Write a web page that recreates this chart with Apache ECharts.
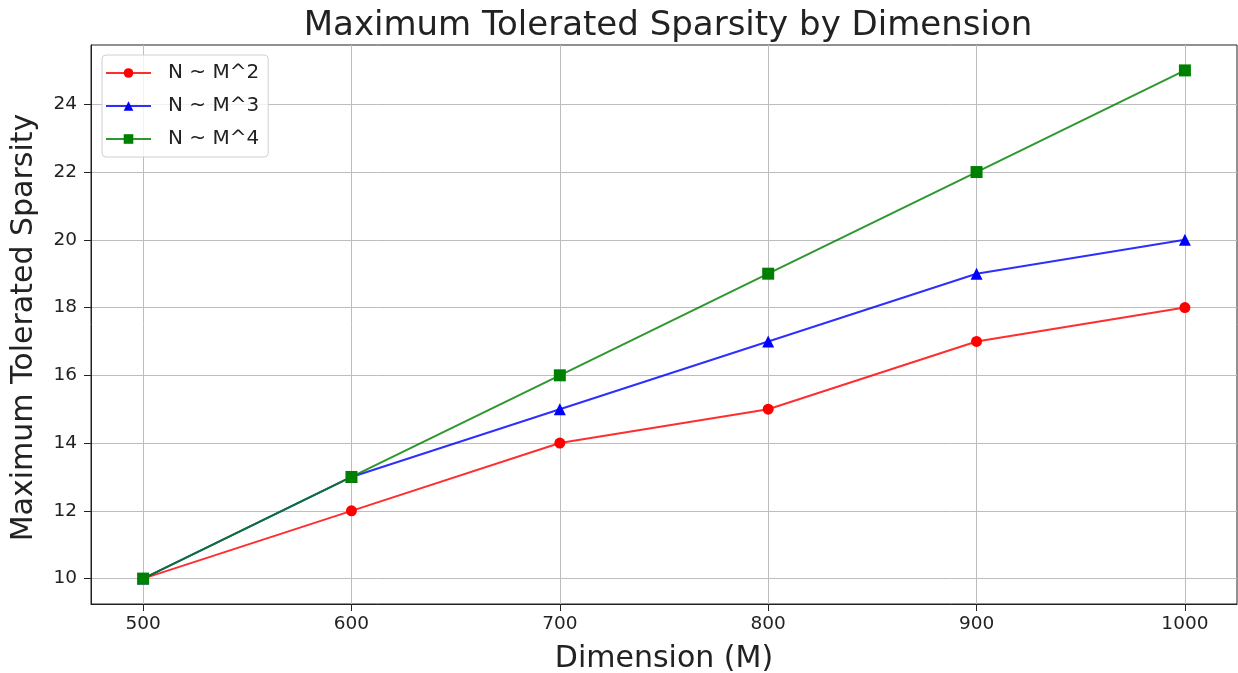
<!DOCTYPE html>
<html><head><meta charset="utf-8">
<script src="https://cdn.jsdelivr.net/npm/echarts@6/dist/echarts.min.js"></script>
<style>html,body{margin:0;padding:0;background:#fff}#c{width:1238px;height:673px}</style>
</head><body><div id="c"></div>
<script>
const dims = [500, 600, 700, 800, 900, 1000];
const m2 = [10, 12, 14, 15, 17, 18];
const m3 = [10, 13, 15, 17, 19, 20];
const m4 = [10, 13, 16, 19, 22, 25];
const xTicks = [500, 600, 700, 800, 900, 1000];
const yTicks = [10, 12, 14, 16, 18, 20, 22, 24];
const names = ['N ~ M^2', 'N ~ M^3', 'N ~ M^4'];

const font = 'DejaVu Sans';
const chart = echarts.init(document.getElementById('c'), null, {renderer: 'canvas'});
function mk(name, vals, color, symbol, size) {
  return {
    name, type: 'line', data: dims.map((d, i) => [d, vals[i]]),
    symbol, symbolSize: size, showAllSymbol: true,
    lineStyle: {color, width: 2, opacity: 0.82}, itemStyle: {color},
    emphasis: {disabled: true}, animation: false
  };
}
chart.setOption({
  animation: false,
  title: {text: 'Maximum Tolerated Sparsity by Dimension', left: 663, textAlign: 'center', top: 4,
    textStyle: {fontFamily: font, fontSize: 34, fontWeight: 'normal', color: '#222'}},
  grid: {left: 91, right: 1, top: 45, bottom: 69, outerBoundsMode: 'none', containLabel: false,
    show: true, borderColor: '#222', borderWidth: 1},
  legend: {
    left: 102, top: 55, orient: 'vertical', itemGap: 13, itemWidth: 45, itemHeight: 12,
    padding: [8, 9, 8, 3], borderColor: '#d0d0d0', borderWidth: 1, borderRadius: 4,
    backgroundColor: 'rgba(255,255,255,0.8)',
    textStyle: {fontFamily: font, fontSize: 20, lineHeight: 20, color: '#222', padding: [0, 0, 0, 12]},
    data: names
  },
  xAxis: {
    type: 'value', min: 475, max: 1025,
    name: 'Dimension (M)', nameLocation: 'middle', nameGap: 40,
    nameTextStyle: {fontFamily: font, fontSize: 30, color: '#222'},
    axisLine: {show: true, onZero: false, lineStyle: {color: '#222'}},
    axisTick: {show: true, customValues: xTicks, length: 7, lineStyle: {color: '#222'}},
    axisLabel: {customValues: xTicks, formatter: v => String(v), fontFamily: font, fontSize: 18.5, color: '#222', margin: 11},
    splitLine: {show: true, lineStyle: {color: '#bdbdbd', width: 1}}
  },
  yAxis: {
    type: 'value', min: 9.25, max: 25.75,
    name: 'Maximum Tolerated Sparsity', nameLocation: 'middle', nameGap: 52,
    nameTextStyle: {fontFamily: font, fontSize: 30, color: '#222', padding: [0, 6, 0, 0]},
    axisLine: {show: true, onZero: false, lineStyle: {color: '#222'}},
    axisTick: {show: true, customValues: yTicks, length: 7, lineStyle: {color: '#222'}},
    axisLabel: {customValues: yTicks, formatter: v => String(v), fontFamily: font, fontSize: 18.5, color: '#222', margin: 14},
    splitLine: {show: true, lineStyle: {color: '#bdbdbd', width: 1}}
  },
  series: [
    mk(names[0], m2, '#ff0000', 'circle', 11),
    mk(names[1], m3, '#0000ff', 'triangle', 12),
    mk(names[2], m4, '#008000', 'rect', 12)
  ]
});
</script></body></html>
